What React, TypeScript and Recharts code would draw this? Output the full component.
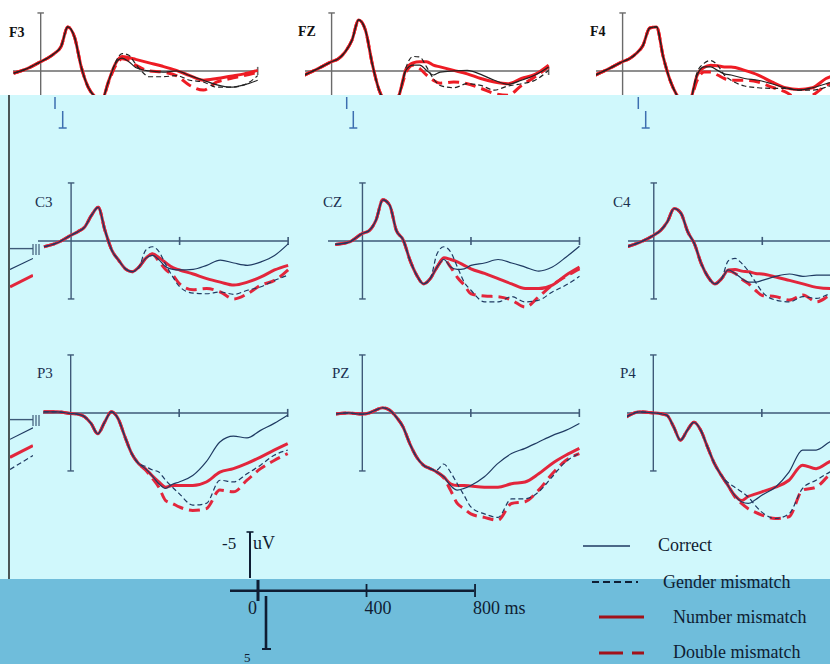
import React from 'react';
import { LineChart, Line, XAxis, YAxis, ReferenceLine } from 'recharts';

// time points (ms) shared by every electrode
const times = [-100, -50, 0, 25, 50, 75, 100, 125, 150, 175, 200, 225, 250, 275, 300, 325, 350, 375, 400, 450, 500, 550, 600, 650, 700, 750, 800];

// amplitudes in uV (negative plotted up)
const f3Correct = [0.2, -0.2, -0.8, -1.1, -1.5, -2.1, -3.8, -2.9, -0.3, 1.4, 2.2, 2.5, 0.9, -0.6, -1.1, -0.8, -0.3, -0.1, 0.0, 0.1, 0.0, 0.4, 0.8, 1.2, 1.4, 1.2, 0.8];
const f3Gender = [0.2, -0.2, -0.8, -1.1, -1.5, -2.1, -3.8, -2.9, -0.3, 1.4, 2.2, 2.5, 0.9, -0.7, -1.5, -1.35, -0.6, 0.1, 0.5, 0.5, 0.4, 0.8, 0.95, 1.4, 1.4, 1.2, 0.4];
const f3Number = [0.2, -0.2, -0.8, -1.1, -1.5, -2.1, -3.8, -2.9, -0.3, 1.4, 2.2, 2.5, 0.9, -0.6, -1.25, -1.15, -1.0, -0.85, -0.7, -0.4, -0.05, 0.4, 0.8, 0.65, 0.45, 0.25, -0.05];
const f3Double = [0.2, -0.2, -0.8, -1.1, -1.5, -2.1, -3.8, -2.9, -0.3, 1.4, 2.2, 2.5, 1.0, -0.4, -1.05, -0.9, -0.5, -0.2, 0.0, 0.1, 0.4, 1.25, 1.65, 0.95, 0.65, 0.4, 0.1];

const fzCorrect = [0.35, -0.2, -0.8, -1.05, -1.65, -2.65, -4.4, -3.5, -0.6, 1.65, 2.8, 3.3, 2.0, -0.1, -0.5, -0.5, -0.05, 0.35, 0.1, 0.0, -0.05, 0.3, 0.8, 1.15, 0.8, 0.35, -0.35];
const fzGender = [0.35, -0.2, -0.8, -1.05, -1.65, -2.65, -4.4, -3.5, -0.6, 1.65, 2.8, 3.3, 2.0, -0.35, -1.25, -1.2, -0.35, 0.65, 1.25, 1.45, 1.1, 1.25, 1.65, 1.3, 1.1, 0.8, -0.05];
const fzNumber = [0.35, -0.2, -0.8, -1.05, -1.65, -2.65, -4.4, -3.5, -0.6, 1.65, 2.8, 3.3, 2.0, -0.2, -0.7, -0.8, -0.8, -0.5, -0.35, -0.05, 0.25, 0.65, 0.95, 1.1, 0.65, 0.3, -0.5];
const fzDouble = [0.35, -0.2, -0.8, -1.05, -1.65, -2.65, -4.4, -3.5, -0.6, 1.65, 2.8, 3.3, 2.0, 0.1, -0.5, -0.2, 0.35, 0.8, 1.05, 0.95, 1.1, 1.5, 1.95, 2.1, 1.25, 0.5, -0.35];

const f4Correct = [0.35, -0.2, -0.8, -1.05, -1.5, -2.2, -3.7, -3.8, -1.2, 0.8, 2.1, 3.0, 2.5, 0.35, -0.35, -0.35, -0.05, 0.25, 0.35, 0.65, 0.8, 1.1, 1.45, 1.65, 1.45, 1.1, 0.8];
const f4Gender = [0.35, -0.2, -0.8, -1.05, -1.5, -2.2, -3.7, -3.8, -1.2, 0.8, 2.1, 3.0, 2.5, 0.1, -0.65, -0.9, -0.5, 0.35, 0.8, 1.3, 1.45, 1.5, 1.5, 1.65, 1.65, 1.4, 0.95];
const f4Number = [0.35, -0.2, -0.8, -1.05, -1.5, -2.2, -3.7, -3.8, -1.2, 0.8, 2.1, 3.0, 2.5, 0.35, -0.3, -0.5, -0.45, -0.35, -0.35, -0.05, 0.35, 0.95, 1.45, 1.6, 1.45, 0.65, 0.25];
const f4Double = [0.35, -0.2, -0.8, -1.05, -1.5, -2.2, -3.7, -3.8, -1.2, 0.8, 2.1, 3.0, 2.5, 0.8, 0.1, 0.1, 0.35, 0.65, 0.8, 0.8, 0.95, 1.4, 1.8, 2.4, 2.1, 1.25, 0.8];

const c3Correct = [0.5, 0.15, -0.5, -0.8, -1.2, -2.2, -2.9, -0.9, 0.8, 1.65, 2.4, 2.65, 2.25, 1.5, 1.25, 1.65, 2.25, 2.45, 2.5, 2.45, 2.1, 1.65, 1.9, 2.1, 1.8, 1.25, 0.25];
const c3Gender = [0.5, 0.15, -0.5, -0.8, -1.2, -2.2, -2.9, -0.9, 0.8, 1.65, 2.4, 2.65, 2.25, 0.8, 0.5, 0.95, 2.1, 3.1, 3.95, 4.5, 4.55, 4.4, 4.6, 4.25, 3.95, 3.4, 2.95];
const c3Number = [0.5, 0.15, -0.5, -0.8, -1.2, -2.2, -2.9, -0.9, 0.8, 1.65, 2.4, 2.65, 2.25, 1.5, 1.1, 1.45, 1.9, 2.3, 2.5, 2.85, 3.25, 3.55, 3.8, 3.55, 3.1, 2.5, 2.1];
const c3Double = [0.5, 0.15, -0.5, -0.8, -1.2, -2.2, -2.9, -0.9, 0.8, 1.65, 2.4, 2.65, 2.25, 1.5, 1.15, 1.8, 2.5, 2.95, 3.7, 4.2, 4.1, 4.4, 5.0, 4.55, 3.8, 3.4, 2.5];

const czCorrect = [0.3, 0.1, -0.65, -0.9, -1.8, -3.55, -3.1, -0.9, -0.1, 1.65, 2.95, 3.7, 3.25, 2.25, 1.6, 2.25, 2.45, 2.4, 2.1, 1.9, 1.6, 1.9, 2.25, 2.6, 2.25, 1.4, 0.45];
const czGender = [0.3, 0.1, -0.65, -0.9, -1.8, -3.55, -3.1, -0.9, -0.1, 1.65, 2.95, 3.7, 3.25, 1.1, 0.5, 0.95, 2.25, 3.55, 4.25, 5.25, 5.25, 4.8, 5.25, 5.1, 4.4, 3.8, 3.05];
const czNumber = [0.3, 0.1, -0.65, -0.9, -1.8, -3.55, -3.1, -0.9, -0.1, 1.65, 2.95, 3.7, 3.25, 2.25, 1.45, 1.6, 1.8, 2.1, 2.4, 2.8, 3.25, 3.7, 4.1, 4.1, 3.8, 2.95, 2.25];
const czDouble = [0.3, 0.1, -0.65, -0.9, -1.8, -3.55, -3.1, -0.9, -0.1, 1.65, 2.95, 3.7, 3.25, 2.25, 1.6, 2.25, 3.15, 3.8, 4.55, 4.75, 4.8, 5.1, 5.7, 4.8, 3.8, 3.05, 2.4];

const c4Correct = [0.5, 0.1, -0.5, -0.9, -1.65, -2.8, -2.4, -0.8, 0.25, 1.95, 3.1, 3.7, 3.25, 2.5, 2.8, 3.25, 3.55, 3.55, 3.4, 3.05, 2.85, 3.05, 2.95, 2.95, 2.8, 2.5, 2.2];
const c4Gender = [0.5, 0.1, -0.5, -0.9, -1.65, -2.8, -2.4, -0.8, 0.25, 1.95, 3.1, 3.7, 3.25, 1.7, 1.5, 1.95, 2.65, 3.55, 4.4, 5.1, 5.25, 4.8, 4.95, 4.55, 4.3, 4.0, 3.7];
const c4Number = [0.5, 0.1, -0.5, -0.9, -1.65, -2.8, -2.4, -0.8, 0.25, 1.95, 3.1, 3.7, 3.25, 2.5, 2.45, 2.6, 2.65, 2.8, 2.85, 3.1, 3.4, 3.7, 4.0, 4.1, 4.0, 3.8, 3.5];
const c4Double = [0.5, 0.1, -0.5, -0.9, -1.65, -2.8, -2.4, -0.8, 0.25, 1.95, 3.1, 3.7, 3.25, 2.6, 2.8, 3.3, 3.7, 4.25, 4.7, 4.8, 5.1, 4.65, 5.25, 4.7, 4.4, 4.0, 3.6];

const p3Correct = [-0.1, -0.1, 0.05, 0.1, 0.3, 0.9, 1.8, 0.8, -0.1, 0.5, 2.05, 3.5, 4.35, 4.8, 5.4, 6.1, 6.5, 6.15, 5.95, 5.4, 4.2, 2.5, 2.0, 2.15, 1.5, 0.9, 0.2];
const p3Gender = [-0.1, -0.1, 0.05, 0.1, 0.3, 0.9, 1.8, 0.8, -0.1, 0.5, 2.05, 3.5, 4.35, 4.6, 4.9, 5.1, 5.8, 6.4, 6.95, 7.95, 7.8, 5.8, 5.95, 5.25, 4.5, 3.65, 3.2];
const p3Number = [-0.1, -0.1, 0.05, 0.1, 0.3, 0.9, 1.8, 0.8, -0.1, 0.5, 2.05, 3.5, 4.35, 4.8, 5.4, 5.95, 6.4, 6.25, 6.25, 6.25, 5.95, 5.1, 4.8, 4.35, 3.8, 3.2, 2.65];
const p3Double = [-0.1, -0.1, 0.05, 0.1, 0.3, 0.9, 1.8, 0.8, -0.1, 0.5, 2.05, 3.5, 4.35, 4.9, 5.6, 6.4, 7.55, 7.8, 8.1, 8.4, 8.25, 6.65, 6.8, 5.8, 4.8, 4.1, 3.5];

const pzCorrect = [0.1, 0, 0.1, 0, -0.25, -0.45, -0.25, 0.35, 1.2, 2.65, 3.8, 4.5, 4.8, 5.1, 5.5, 6.25, 6.65, 6.5, 6.25, 5.5, 4.35, 3.5, 3.05, 2.5, 1.95, 1.5, 0.9];
const pzGender = [0.1, 0, 0.1, 0, -0.25, -0.45, -0.25, 0.35, 1.2, 2.65, 3.8, 4.5, 4.8, 4.9, 4.4, 5.1, 6.1, 7.1, 8.1, 8.7, 9.0, 7.4, 7.4, 6.8, 5.5, 4.2, 3.5];
const pzNumber = [0.1, 0, 0.1, 0, -0.25, -0.45, -0.25, 0.35, 1.2, 2.65, 3.8, 4.5, 4.8, 5.1, 5.5, 6.1, 6.25, 6.25, 6.3, 6.4, 6.4, 6.1, 5.95, 5.25, 4.35, 3.65, 3.05];
const pzDouble = [0.1, 0, 0.1, 0, -0.25, -0.45, -0.25, 0.35, 1.2, 2.65, 3.8, 4.5, 4.8, 5.1, 5.6, 6.65, 7.8, 8.25, 8.7, 9.0, 9.25, 7.8, 7.65, 6.65, 5.25, 4.1, 3.5];

const p4Correct = [0.35, -0.1, 0, 0.05, 0.2, 1.2, 2.35, 1.5, 0.8, 1.5, 2.95, 4.35, 5.35, 6.25, 7.1, 7.65, 7.8, 7.5, 7.1, 6.4, 5.1, 3.2, 3.2, 2.5, 2.0, 1.5, 1.0];
const p4Gender = [0.35, -0.1, 0, 0.05, 0.2, 1.2, 2.35, 1.5, 0.8, 1.5, 2.95, 4.35, 5.35, 6.0, 6.4, 6.8, 7.25, 7.95, 8.55, 9.1, 8.7, 6.5, 5.8, 5.1, 4.5, 4.0, 3.5];
const p4Number = [0.35, -0.1, 0, 0.05, 0.2, 1.2, 2.35, 1.5, 0.8, 1.5, 2.95, 4.35, 5.35, 6.25, 7.1, 7.55, 7.2, 7.0, 6.8, 6.4, 5.8, 4.5, 4.8, 4.2, 3.8, 3.4, 3.0];
const p4Double = [0.35, -0.1, 0, 0.05, 0.2, 1.2, 2.35, 1.5, 0.8, 1.5, 2.95, 4.35, 5.35, 6.25, 7.2, 7.8, 8.25, 8.55, 8.8, 9.1, 8.95, 6.65, 6.4, 5.35, 4.8, 4.3, 3.8];

// tails of a cut-off neighbouring panel on the left edge
const edgeT = [0, 1];
const edgeCCorrect = [1.8, 0.85];
const edgeCNumber = [3.3, 2.3];
const edgePCorrect = [1.7, 0.7];
const edgePNumber = [3.25, 2.25];
const edgePGender = [4.3, 3.1];

const scaleTicks = [0, 400, 800];
const legendLabels = ['Correct', 'Gender mismatch', 'Number mismatch', 'Double mismatch'];

const PX_MS = 0.2713;
const PX_UV = 11.6;
const XMAX = 812;

const FRONT = { axis: '#6a6a6a', thin: '#222222', red: '#ee1c24', label: '#111111' };
const BACK = { axis: '#3e5a78', thin: '#1f3a62', red: '#e2263c', label: '#1b3050' };

const panels = [
  { name: 'F3', x0: 40.7, y0: 70.7, xmin: -102, ymin: -5.6, ymax: 5.6, c: f3Correct, g: f3Gender, n: f3Number, d: f3Double, pal: FRONT, lx: 9, ly: 37 },
  { name: 'FZ', x0: 331.7, y0: 70.7, xmin: -98, ymin: -5.6, ymax: 5.6, c: fzCorrect, g: fzGender, n: fzNumber, d: fzDouble, pal: FRONT, lx: 298, ly: 36 },
  { name: 'F4', x0: 622.7, y0: 70.7, xmin: -98, ymin: -5.6, ymax: 5.6, c: f4Correct, g: f4Gender, n: f4Number, d: f4Double, pal: FRONT, lx: 590, ly: 36 },
  { name: 'C3', x0: 71, y0: 240.7, xmin: -122, ymin: -5.6, ymax: 6.5, c: c3Correct, g: c3Gender, n: c3Number, d: c3Double, pal: BACK, lx: 35, ly: 207 },
  { name: 'CZ', x0: 362.3, y0: 240.7, xmin: -127, ymin: -5.6, ymax: 6.5, c: czCorrect, g: czGender, n: czNumber, d: czDouble, pal: BACK, lx: 323, ly: 207 },
  { name: 'C4', x0: 653.3, y0: 240.7, xmin: -95, ymin: -5.6, ymax: 6.5, c: c4Correct, g: c4Gender, n: c4Number, d: c4Double, pal: BACK, lx: 613, ly: 207 },
  { name: 'P3', x0: 70.7, y0: 412.7, xmin: -102, ymin: -5.6, ymax: 10, c: p3Correct, g: p3Gender, n: p3Number, d: p3Double, pal: BACK, lx: 37, ly: 378 },
  { name: 'PZ', x0: 362.3, y0: 412.7, xmin: -97, ymin: -5.6, ymax: 10, c: pzCorrect, g: pzGender, n: pzNumber, d: pzDouble, pal: BACK, lx: 332, ly: 378 },
  { name: 'P4', x0: 653.3, y0: 412.7, xmin: -97, ymin: -5.6, ymax: 10, c: p4Correct, g: p4Gender, n: p4Number, d: p4Double, pal: BACK, lx: 620, ly: 378 },
];

function Panel({ p, front }: { p: any; front: boolean }) {
  const w = (XMAX - p.xmin) * PX_MS;
  const h = (p.ymax - p.ymin) * PX_UV;
  const left = p.x0 + p.xmin * PX_MS;
  const top = p.y0 + p.ymin * PX_UV;
  const rows = times.map((t, i) => ({ t, correct: p.c[i], gender: p.g[i], number: p.n[i], double: p.d[i] }));
  const pal = p.pal;
  return (
    <div style={{ position: 'absolute', left, top, width: w, height: h }}>
      <LineChart width={w} height={h} data={rows} margin={{ top: 0, right: 0, bottom: 0, left: 0 }}>
        <XAxis dataKey="t" type="number" domain={[p.xmin, XMAX]} hide allowDataOverflow />
        <YAxis type="number" domain={[p.ymin, p.ymax]} reversed hide allowDataOverflow />
        <ReferenceLine segment={[{ x: p.xmin, y: 0 }, { x: 800, y: 0 }]} stroke={pal.axis} strokeWidth={1.6} />
        <ReferenceLine segment={[{ x: 0, y: -5 }, { x: 0, y: 5 }]} stroke={pal.axis} strokeWidth={1.4} />
        <ReferenceLine segment={[{ x: -12, y: -5 }, { x: 12, y: -5 }]} stroke={pal.axis} strokeWidth={1.4} />
        <ReferenceLine segment={[{ x: -12, y: 5 }, { x: 12, y: 5 }]} stroke={pal.axis} strokeWidth={1.4} />
        <ReferenceLine segment={[{ x: 800, y: -0.35 }, { x: 800, y: 0.35 }]} stroke={pal.axis} strokeWidth={1.6} />
        {!front && <ReferenceLine segment={[{ x: 400, y: -0.35 }, { x: 400, y: 0.35 }]} stroke={pal.axis} strokeWidth={1.6} />}
        <Line dataKey="double" type="monotone" stroke={pal.red} strokeWidth={3} strokeDasharray="11 6" dot={false} isAnimationActive={false} />
        <Line dataKey="number" type="monotone" stroke={pal.red} strokeWidth={3} dot={false} isAnimationActive={false} />
        <Line dataKey="gender" type="monotone" stroke={pal.thin} strokeWidth={1.2} strokeDasharray="5 3" dot={false} isAnimationActive={false} />
        <Line dataKey="correct" type="monotone" stroke={pal.thin} strokeWidth={1.2} dot={false} isAnimationActive={false} />
      </LineChart>
    </div>
  );
}

function EdgeStub({ zeroY, correct, number, gender }: { zeroY: number; correct: number[]; number: number[]; gender?: number[] }) {
  const h = 7 * PX_UV;
  const rows = edgeT.map((t, i) => ({ t, correct: correct[i], number: number[i], gender: gender ? gender[i] : null }));
  return (
    <div style={{ position: 'absolute', left: 10, top: zeroY - PX_UV, width: 23, height: h }}>
      <LineChart width={23} height={h} data={rows} margin={{ top: 0, right: 0, bottom: 0, left: 0 }}>
        <XAxis dataKey="t" type="number" domain={[0, 1]} hide />
        <YAxis type="number" domain={[-1, 6]} reversed hide />
        <ReferenceLine y={0} stroke={BACK.axis} strokeWidth={1.4} />
        {gender && <Line dataKey="gender" stroke={BACK.thin} strokeWidth={1.2} strokeDasharray="5 3" dot={false} isAnimationActive={false} />}
        <Line dataKey="number" stroke={BACK.red} strokeWidth={3} dot={false} isAnimationActive={false} />
        <Line dataKey="correct" stroke={BACK.thin} strokeWidth={1.2} dot={false} isAnimationActive={false} />
      </LineChart>
    </div>
  );
}

export default function App() {
  const front = panels.slice(0, 3);
  const back = panels.slice(3);
  const ink = '#0f1d33';
  const scaleX0 = 258;
  return (
    <div style={{ position: 'absolute', left: 0, top: 0, width: 830, height: 664, overflow: 'hidden', background: '#ffffff', fontFamily: '"Liberation Serif", "Times New Roman", serif' }}>
      {front.map((p) => <Panel key={p.name} p={p} front />)}
      <div style={{ position: 'absolute', left: 0, top: 95, width: 830, height: 484, background: '#d0f8fc' }} />
      <div style={{ position: 'absolute', left: 0, top: 579, width: 830, height: 85, background: '#6fbddb' }} />
      {back.map((p) => <Panel key={p.name} p={p} front={false} />)}
      <EdgeStub zeroY={249} correct={edgeCCorrect} number={edgeCNumber} />
      <EdgeStub zeroY={420} correct={edgePCorrect} number={edgePNumber} gender={edgePGender} />
      <svg width={830} height={664} style={{ position: 'absolute', left: 0, top: 0 }}>
        <line x1={9} y1={95} x2={9} y2={579} stroke="#111" strokeWidth={1.4} />
        {[249, 420].map((y) => (
          <g key={y} stroke={BACK.axis} strokeWidth={1.2}>
            <line x1={33} y1={y - 5} x2={33} y2={y + 6} />
            <line x1={36} y1={y - 5} x2={36} y2={y + 6} />
            <line x1={39} y1={y - 5} x2={39} y2={y + 6} />
          </g>
        ))}
        {[[55, 62.7], [346.7, 353.3], [638.3, 645.7]].map(([a, b]) => (
          <g key={a} stroke="#3d6fb0" strokeWidth={1.5}>
            <line x1={a} y1={97} x2={a} y2={109} />
            <line x1={b} y1={111} x2={b} y2={128} />
            <line x1={b - 4} y1={128} x2={b + 4} y2={128} />
          </g>
        ))}
        {panels.map((p, i) => (
          <text key={p.name} x={p.lx} y={p.ly} fontSize={i < 3 ? 14 : 15} fontWeight={i < 3 ? 'bold' : 'normal'} fill={p.pal.label}>
            {p.name}
          </text>
        ))}
        {/* scale bar */}
        <line x1={230} y1={590.7} x2={474} y2={590.7} stroke={ink} strokeWidth={2.4} />
        <line x1={250} y1={532} x2={250} y2={578} stroke={ink} strokeWidth={2} />
        <line x1={246.5} y1={532} x2={253.5} y2={532} stroke={ink} strokeWidth={1.6} />
        <line x1={266} y1={596} x2={266} y2={649} stroke={ink} strokeWidth={2.6} />
        <line x1={262} y1={649} x2={271} y2={649} stroke={ink} strokeWidth={2} />
        {scaleTicks.map((t) => (
          <line key={t} x1={scaleX0 + t * PX_MS} y1={t === 0 ? 580 : 584} x2={scaleX0 + t * PX_MS} y2={t === 0 ? 601 : 597} stroke={ink} strokeWidth={t === 0 ? 3 : 1.8} />
        ))}
        {scaleTicks.map((t) => (
          <text key={'l' + t} x={scaleX0 + t * PX_MS - (t === 0 ? 10 : 2)} y={614} fontSize={18} fill={ink}>
            {t === 800 ? '800 ms' : String(t)}
          </text>
        ))}
        <text x={222} y={549} fontSize={17} fill={ink}>-5</text>
        <text x={253} y={549} fontSize={18} fill={ink}>uV</text>
        <text x={244} y={662} fontSize={13} fill={ink}>5</text>
        {/* legend */}
        <line x1={583} y1={546} x2={630} y2={546} stroke={BACK.thin} strokeWidth={1.3} />
        <line x1={592} y1={582} x2={638} y2={582} stroke={ink} strokeWidth={2} strokeDasharray="7 4" />
        <line x1={599} y1={617} x2={644} y2={617} stroke="#a2121a" strokeWidth={3} />
        <line x1={599} y1={653} x2={644} y2={653} stroke="#a2121a" strokeWidth={3} strokeDasharray="24 9" />
        <text x={658} y={551} fontSize={18} fill={ink}>{legendLabels[0]}</text>
        <text x={663} y={588} fontSize={18} fill={ink}>{legendLabels[1]}</text>
        <text x={673} y={623} fontSize={18} fill={ink}>{legendLabels[2]}</text>
        <text x={673} y={658} fontSize={18} fill={ink}>{legendLabels[3]}</text>
      </svg>
    </div>
  );
}
